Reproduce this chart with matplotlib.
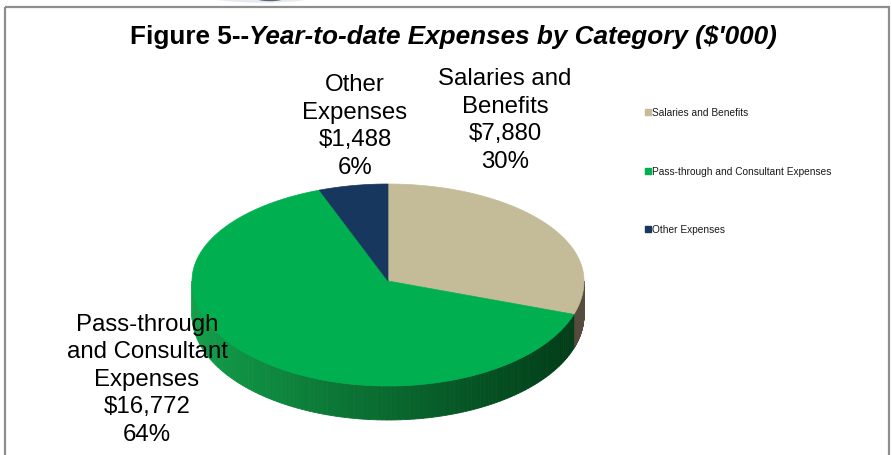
import numpy as np
import matplotlib
matplotlib.use("Agg")
import matplotlib.pyplot as plt
from matplotlib.patches import Polygon, Rectangle, Ellipse
from matplotlib.colors import to_rgb

# ── Data ──────────────────────────────────────────────────────────────────────
categories = ["Salaries and Benefits", "Pass-through and Consultant Expenses", "Other Expenses"]
label_text = ["Salaries and\nBenefits", "Pass-through\nand Consultant\nExpenses", "Other\nExpenses"]
values = [7880, 16772, 1488]          # $'000

TOP_COLORS  = ["#C4BC98", "#00B050", "#17375E"]
SIDE_LEFT   = ["#6A6050", "#13A04B", "#10284A"]
SIDE_RIGHT  = ["#554C3E", "#013A17", "#0C1F3A"]

# ── Pie geometry (pixel units, y downward) ───────────────────────────────────
CX, CY = 388, 282
RX = 196
RY_BACK, RY_FRONT = 97, 105
DEPTH = 34


def rim(theta, drop=0.0):
    """Point on the rim for clockwise angle theta (radians, 0 = 12 o'clock)."""
    c = np.cos(theta)
    ry = np.where(c > 0, RY_BACK, RY_FRONT)
    return CX + RX * np.sin(theta), CY - ry * c + drop


def mix(c1, c2, t):
    a, b = np.array(to_rgb(c1)), np.array(to_rgb(c2))
    return tuple(a + (b - a) * t)


fig = plt.figure(figsize=(8.92, 4.56), dpi=100)
ax = fig.add_axes([0, 0, 1, 1])
ax.set_xlim(0, 892)
ax.set_ylim(456, 0)
ax.axis("off")

# chart border and the edge of the page logo above it
ax.add_patch(Ellipse((262, -4), 110, 14, color="#E6EAF0", zorder=0))
ax.add_patch(Ellipse((270, -2), 30, 7, color="#5A6478", zorder=0))
ax.add_patch(Rectangle((4.5, 7.5), 884.5, 460, fill=False, ec="#8E8E8E", lw=1.6, zorder=1))

total = sum(values)
fracs = np.array(values) / total
bounds = np.concatenate([[0], np.cumsum(fracs)]) * 2 * np.pi

# front side walls (visible where the rim faces the viewer)
for i in range(len(values)):
    a0, a1 = max(bounds[i], np.pi / 2), min(bounds[i + 1], 3 * np.pi / 2)
    if a1 <= a0:
        continue
    th = np.linspace(a0, a1, 120)
    for k in range(len(th) - 1):
        xs0, ys0 = rim(th[k])
        xs1, ys1 = rim(th[k + 1])
        t = float(np.clip(((xs0 + xs1) / 2 - (CX - RX)) / (2 * RX), 0, 1))
        col = mix(SIDE_LEFT[i], SIDE_RIGHT[i], t ** 0.9)
        quad = [(xs0, ys0), (xs1, ys1), (xs1, ys1 + DEPTH), (xs0, ys0 + DEPTH)]
        ax.add_patch(Polygon(quad, closed=True, fc=col, ec=col, lw=0.6, zorder=2))

# top faces
for i in range(len(values)):
    th = np.linspace(bounds[i], bounds[i + 1], 200)
    xs, ys = rim(th)
    pts = [(CX, CY)] + list(zip(xs, ys))
    ax.add_patch(Polygon(pts, closed=True, fc=TOP_COLORS[i], ec=TOP_COLORS[i],
                         lw=0.5, zorder=3))

# data labels: category, value, percent (y = baseline of the last line)
label_pos = [(505, 168), (147, 441), (355, 174)]
for i in range(len(values)):
    txt = f"{label_text[i]}\n${values[i]:,}\n{fracs[i] * 100:.0f}%"
    x, y = label_pos[i]
    ax.text(x, y, txt, ha="center", va="baseline", multialignment="center",
            fontsize=17.3, family="Liberation Sans", linespacing=1.33, zorder=5)

# title: bold lead-in, bold italic remainder
fig.canvas.draw()
r = fig.canvas.get_renderer()
t1 = ax.text(0, 37, "Figure 5--", fontsize=18.8, weight="bold",
             family="Liberation Sans", va="center")
t2 = ax.text(0, 37, "Year-to-date Expenses by Category ($'000)", fontsize=18.8,
             weight="bold", style="italic", family="Liberation Sans", va="center")
w1 = t1.get_window_extent(r).width
w2 = t2.get_window_extent(r).width
x0 = 453 - (w1 + w2) / 2
t1.set_x(x0)
t2.set_x(x0 + w1)

# legend on the right
leg_y = [113, 172, 230]
for i, cat in enumerate(categories):
    ax.add_patch(Rectangle((645, leg_y[i] - 3), 6, 6, color=TOP_COLORS[i], zorder=4))
    ax.text(652, leg_y[i], cat, fontsize=7.3, family="Liberation Sans",
            color="#1A1A1A", va="center", ha="left")

fig.savefig("out.png", dpi=100)
